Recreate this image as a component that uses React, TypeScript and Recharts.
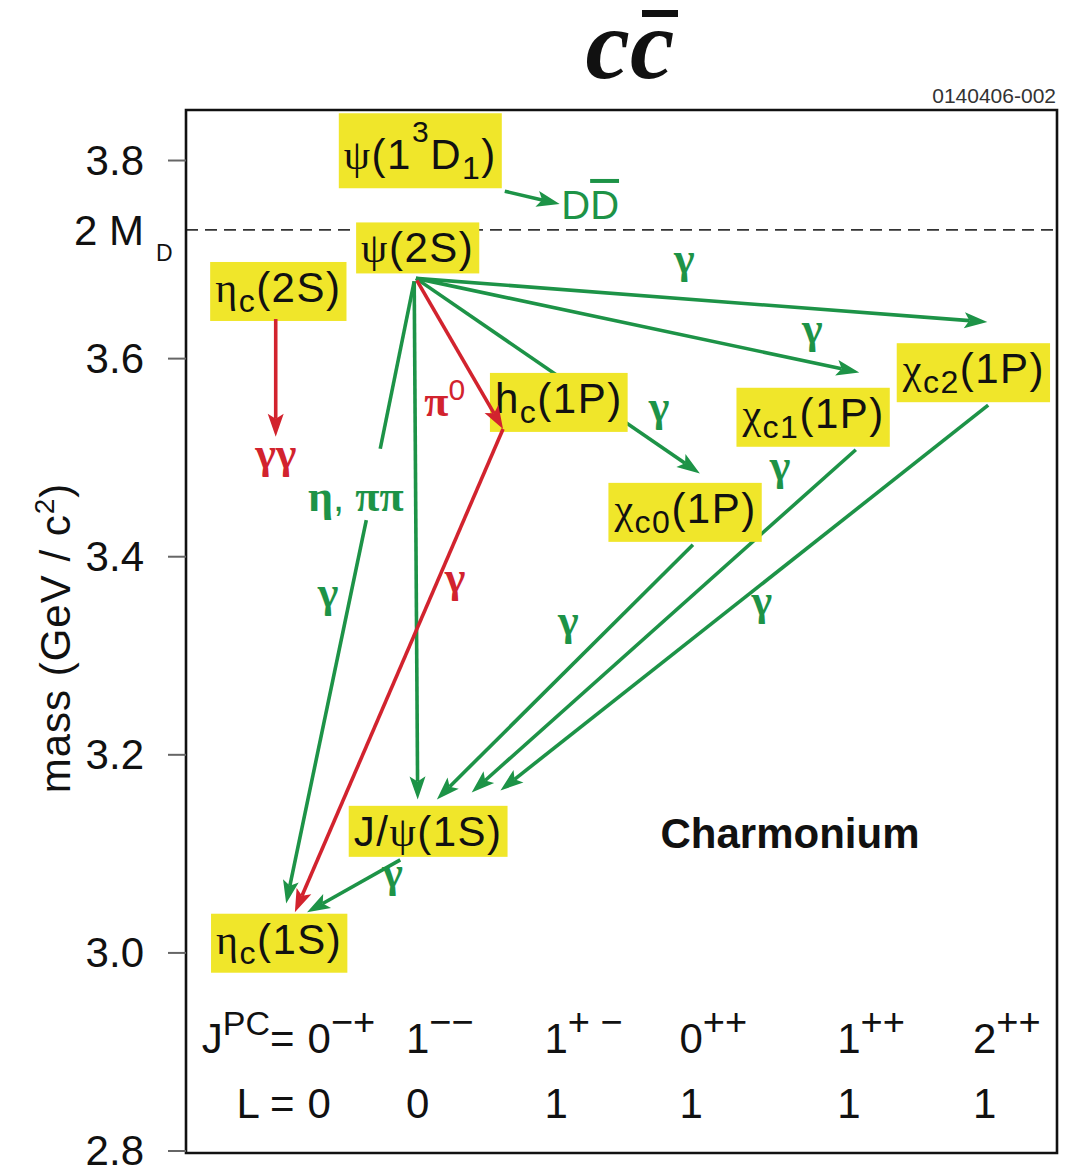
import { useLayoutEffect, useRef, useState } from "react";
import {
  ComposedChart,
  ReferenceArea,
  ReferenceLine,
  Scatter,
  XAxis,
  YAxis,
} from "recharts";

const SANS = '"Liberation Sans", Arial, sans-serif';
const SERIF = '"Liberation Serif", "Times New Roman", serif';
const GREEN = "#1d9347";
const RED = "#d2232e";
const YELLOW = "#f0e62a";
const INK = "#111";

// mass axis (GeV/c^2)
const massDomain = [2.798, 3.851];
const massTicks = [2.8, 3.0, 3.2, 3.4, 3.6, 3.73, 3.8];
const openCharmThreshold = 3.73; // 2 M_D

// charmonium levels: label, mass, horizontal slot (0..100 across the frame)
const stateLabels = [
  "ψ(1^{3}D_{1})",
  "ψ(2S)",
  "η_{c}(2S)",
  "h_{c}(1P)",
  "χ_{c0}(1P)",
  "χ_{c1}(1P)",
  "χ_{c2}(1P)",
  "J/ψ(1S)",
  "η_{c}(1S)",
];
const stateMass = [3.772, 3.686, 3.638, 3.526, 3.415, 3.511, 3.556, 3.097, 2.98];
const stateSlot = [26.9, 26.6, 10.6, 42.8, 57.3, 72.0, 90.4, 27.8, 10.7];

// transitions: [slot1, mass1, slot2, mass2, colour, arrowhead]
type Transition = [number, number, number, number, "g" | "r", boolean];
const transitions: Transition[] = [
  [36.6, 3.769, 42.9, 3.756, "g", true], // ψ(3770) -> DD̄
  [26.4, 3.681, 92.0, 3.637, "g", true], // ψ(2S) -> χc2
  [26.4, 3.681, 77.3, 3.586, "g", true], // ψ(2S) -> χc1
  [26.4, 3.681, 59.0, 3.484, "g", true], // ψ(2S) -> χc0 (passes behind hc)
  [26.2, 3.678, 26.6, 3.155, "g", true], // ψ(2S) -> J/ψ
  [26.2, 3.678, 22.3, 3.509, "g", false], // ψ(2S) -> ηc(1S), above the label
  [20.7, 3.437, 11.5, 3.05, "g", true], // ... and below it
  [58.2, 3.412, 28.8, 3.155, "g", true], // χc0 -> J/ψ
  [76.9, 3.508, 32.8, 3.162, "g", true], // χc1 -> J/ψ
  [92.1, 3.553, 36.1, 3.164, "g", true], // χc2 -> J/ψ
  [24.6, 3.094, 13.9, 3.041, "g", true], // J/ψ -> ηc(1S)
  [26.5, 3.679, 36.4, 3.529, "r", true], // ψ(2S) -> hc π0
  [36.4, 3.529, 12.5, 3.041, "r", true], // hc -> ηc(1S) γ
  [10.3, 3.64, 10.3, 3.521, "r", true], // ηc(2S) -> γγ
];

// transition annotations
const noteLabels = ["γ", "γ", "γ", "γ", "γ", "γ", "γ", "γ", "γ", "γγ", "π^{0}", "η, ππ", "D~{D}"];
const noteSlot = [57.2, 71.9, 54.3, 68.2, 43.9, 66.1, 16.3, 23.7, 30.9, 10.3, 29.7, 19.5, 46.4];
const noteMass = [3.686, 3.616, 3.537, 3.477, 3.321, 3.341, 3.349, 3.067, 3.364, 3.49, 3.542, 3.446, 3.741];
const noteColor = ["g", "g", "g", "g", "g", "g", "g", "g", "r", "r", "r", "g", "g"];

// quantum numbers under each column
const jpcLabels = ["0^{−+}", "1^{−−}", "1^{+ −}", "0^{++}", "1^{++}", "2^{++}"];
const orbitalL = ["0", "0", "1", "1", "1", "1"];
const columnSlot = [15.3, 26.6, 42.5, 58.0, 76.1, 91.7];
const jpcRowMass = 2.899;
const lRowMass = 2.833;

type TextStyle = {
  size: number;
  supSize: number;
  subSize: number;
  rise: number;
  drop: number;
  greekSize?: number;
  greekWeight?: string;
};

const stateStyle: TextStyle = { size: 42, supSize: 30, subSize: 32, rise: 27, drop: 10 };
const rowStyle: TextStyle = { size: 42, supSize: 38, subSize: 34, rise: 18, drop: 0 };
const noteStyle: TextStyle = {
  size: 40,
  supSize: 30,
  subSize: 30,
  rise: 16,
  drop: 0,
  greekSize: 44,
  greekWeight: "bold",
};

type Part = { text: string; kind: "n" | "sup" | "sub" | "bar" };

// tiny markup: ^{..} superscript, _{..} subscript, ~{..} overbar
function parseLabel(s: string): Part[] {
  const parts: Part[] = [];
  let buf = "";
  let i = 0;
  const flush = () => {
    if (buf) parts.push({ text: buf, kind: "n" });
    buf = "";
  };
  while (i < s.length) {
    const ch = s[i];
    if (ch === "^" || ch === "_" || ch === "~") {
      flush();
      let body = "";
      if (s[i + 1] === "{") {
        const end = s.indexOf("}", i + 2);
        body = s.slice(i + 2, end);
        i = end + 1;
      } else {
        body = s[i + 1];
        i += 2;
      }
      parts.push({ text: body, kind: ch === "^" ? "sup" : ch === "_" ? "sub" : "bar" });
    } else {
      buf += ch;
      i += 1;
    }
  }
  flush();
  return parts;
}

function spans(label: string, st: TextStyle) {
  const out: JSX.Element[] = [];
  let shift = 0;
  parseLabel(label).forEach((p, i) => {
    const target = p.kind === "sup" ? -st.rise : p.kind === "sub" ? st.drop : 0;
    const dy = target - shift;
    shift = target;
    const size = p.kind === "sup" ? st.supSize : p.kind === "sub" ? st.subSize : st.size;
    const runs = p.text.match(/[\u0370-\u03ff]+|[^\u0370-\u03ff]+/g) || [];
    runs.forEach((r, j) => {
      const greek = /[\u0370-\u03ff]/.test(r);
      out.push(
        <tspan
          key={`${i}-${j}`}
          dy={j === 0 ? dy : 0}
          fontSize={greek && p.kind === "n" && st.greekSize ? st.greekSize : size}
          fontFamily={greek ? SERIF : SANS}
          fontWeight={greek && st.greekWeight ? st.greekWeight : undefined}
          textDecoration={p.kind === "bar" ? "overline" : undefined}
        >
          {r}
        </tspan>
      );
    });
  });
  return out;
}

const stateRows = stateLabels.map((label, i) => ({ x: stateSlot[i], y: stateMass[i], label }));
const noteRows = noteLabels.map((label, i) => ({
  x: noteSlot[i],
  y: noteMass[i],
  label,
  color: noteColor[i] === "r" ? RED : GREEN,
}));
const jpcRows = columnSlot.map((x, i) => ({
  x,
  y: jpcRowMass,
  label: jpcLabels[i],
  caption: i === 0 ? "J^{PC}=" : "",
}));
const lRows = columnSlot.map((x, i) => ({
  x,
  y: lRowMass,
  label: orbitalL[i],
  caption: i === 0 ? "L =" : "",
}));

// yellow label box sitting on its mass level
function StateBox(props: any) {
  const { cx, cy, payload } = props;
  const ref = useRef<SVGTextElement>(null);
  const [box, setBox] = useState<{ x: number; y: number; w: number; h: number } | null>(null);
  useLayoutEffect(() => {
    if (ref.current) {
      const b = ref.current.getBBox();
      setBox({ x: b.x, y: b.y, w: b.width, h: b.height });
    }
  }, [payload.label]);
  const padX = 5;
  const padY = 2;
  const tx = box ? cx - (box.x + box.w / 2) : cx;
  const ty = box ? cy - padY - (box.y + box.h) : cy;
  return (
    <g transform={`translate(${tx},${ty})`} opacity={box ? 1 : 0}>
      {box && (
        <rect
          x={box.x - padX}
          y={box.y - padY}
          width={box.w + 2 * padX}
          height={box.h + 2 * padY}
          fill={YELLOW}
        />
      )}
      <text ref={ref} x={0} y={0} fill={INK} letterSpacing={1.5}>
        {spans(payload.label, stateStyle)}
      </text>
    </g>
  );
}

function NoteText(props: any) {
  const { cx, cy, payload } = props;
  return (
    <text x={cx} y={cy} textAnchor="middle" fill={payload.color}>
      {spans(payload.label, noteStyle)}
    </text>
  );
}

function RowCell(props: any) {
  const { cx, cy, payload } = props;
  const left = cx - 11.7;
  return (
    <g fill={INK}>
      {payload.caption && (
        <text x={left - 13} y={cy} textAnchor="end">
          {spans(payload.caption, { ...rowStyle, supSize: 34 })}
        </text>
      )}
      <text x={left} y={cy}>
        {spans(payload.label, rowStyle)}
      </text>
    </g>
  );
}

function arrowShape(color: string, head: boolean) {
  return (p: any) => {
    const x1 = Number(p.x1);
    const y1 = Number(p.y1);
    const x2 = Number(p.x2);
    const y2 = Number(p.y2);
    const len = Math.hypot(x2 - x1, y2 - y1) || 1;
    const ux = (x2 - x1) / len;
    const uy = (y2 - y1) / len;
    const L = 23;
    const W = 8;
    const N = 5;
    const nx = x2 - ux * (L - N);
    const ny = y2 - uy * (L - N);
    const bx = x2 - ux * L;
    const by = y2 - uy * L;
    const pts = [
      [x2, y2],
      [bx - uy * W, by + ux * W],
      [nx, ny],
      [bx + uy * W, by - ux * W],
    ]
      .map((q) => q.join(","))
      .join(" ");
    return (
      <g>
        <line
          x1={x1}
          y1={y1}
          x2={head ? nx : x2}
          y2={head ? ny : y2}
          stroke={color}
          strokeWidth={3.6}
        />
        {head && <polygon points={pts} fill={color} />}
      </g>
    );
  };
}

function MassTick(props: any) {
  const { x, y, payload } = props;
  const axisX = x + 24 + 18;
  if (payload.value === openCharmThreshold) {
    return (
      <g fill={INK} fontFamily={SANS}>
        <text x={x} y={y + 15} textAnchor="end" fontSize={42}>
          2 M
        </text>
        <text x={x + 12} y={y + 31} fontSize={23}>
          D
        </text>
      </g>
    );
  }
  return (
    <g>
      <line x1={axisX - 18} x2={axisX} y1={y} y2={y} stroke="#666" strokeWidth={2} />
      <text x={x} y={y + 14} textAnchor="end" fontSize={42} fontFamily={SANS} fill={INK}>
        {payload.value.toFixed(1)}
      </text>
    </g>
  );
}

export default function App() {
  const green = transitions.filter((t) => t[4] === "g");
  const red = transitions.filter((t) => t[4] === "r");
  return (
    <div style={{ position: "relative", width: 1061, height: 1159, fontFamily: SANS }}>
      <ComposedChart width={1061} height={1159} margin={{ top: 102, right: 12, bottom: 14, left: 0 }}>
        <XAxis type="number" dataKey="x" domain={[0, 100]} allowDataOverflow hide />
        <YAxis
          type="number"
          dataKey="y"
          domain={massDomain}
          allowDataOverflow
          ticks={massTicks}
          interval={0}
          width={178}
          tickSize={18}
          tickMargin={24}
          tickLine={false}
          axisLine={false}
          tick={MassTick}
        />
        <ReferenceLine
          y={openCharmThreshold}
          stroke="#333"
          strokeWidth={1.6}
          strokeDasharray="12 7"
          ifOverflow="visible"
          zIndex={500}
        />
        {green.map((t, i) => (
          <ReferenceLine
            key={`g${i}`}
            segment={[
              { x: t[0], y: t[1] },
              { x: t[2], y: t[3] },
            ]}
            ifOverflow="visible"
            shape={arrowShape(GREEN, t[5])}
            zIndex={550}
          />
        ))}
        <Scatter
          data={stateRows}
          dataKey="y"
          shape={(p: any) => <StateBox {...p} />}
          isAnimationActive={false}
          zIndex={600}
        />
        {red.map((t, i) => (
          <ReferenceLine
            key={`r${i}`}
            segment={[
              { x: t[0], y: t[1] },
              { x: t[2], y: t[3] },
            ]}
            ifOverflow="visible"
            shape={arrowShape(RED, t[5])}
            zIndex={650}
          />
        ))}
        <Scatter
          data={noteRows}
          dataKey="y"
          shape={(p: any) => <NoteText {...p} />}
          isAnimationActive={false}
          zIndex={700}
        />
        <Scatter
          data={jpcRows}
          dataKey="y"
          shape={(p: any) => <RowCell {...p} />}
          isAnimationActive={false}
          zIndex={700}
        />
        <Scatter
          data={lRows}
          dataKey="y"
          shape={(p: any) => <RowCell {...p} />}
          isAnimationActive={false}
          zIndex={700}
        />
        <ReferenceArea
          x1={0}
          x2={100}
          y1={massDomain[0]}
          y2={massDomain[1]}
          fill="none"
          stroke={INK}
          strokeWidth={2.6}
          ifOverflow="visible"
          zIndex={800}
        />
      </ComposedChart>
      <svg
        width={1061}
        height={1159}
        style={{ position: "absolute", left: 0, top: 0, pointerEvents: "none" }}
      >
        <text
          x={622}
          y={70}
          textAnchor="middle"
          fontFamily={SERIF}
          fontStyle="italic"
          fontWeight="bold"
          fontSize={100}
          fill={INK}
        >
          cc
        </text>
        <rect x={634} y={2} width={36} height={7} fill={INK} />
        <text x={1048} y={95} textAnchor="end" fontSize={21} fill="#333" fontFamily={SANS}>
          0140406-002
        </text>
        <text
          x={62}
          y={630}
          textAnchor="middle"
          transform="rotate(-90 62 630)"
          fill={INK}
          letterSpacing={1}
        >
          {spans("mass (GeV / c^{2})", { size: 42, supSize: 28, subSize: 28, rise: 16, drop: 0 })}
        </text>
        <text
          x={782}
          y={840}
          textAnchor="middle"
          fontSize={42}
          fontWeight="bold"
          fontFamily={SANS}
          fill={INK}
        >
          Charmonium
        </text>
      </svg>
    </div>
  );
}
